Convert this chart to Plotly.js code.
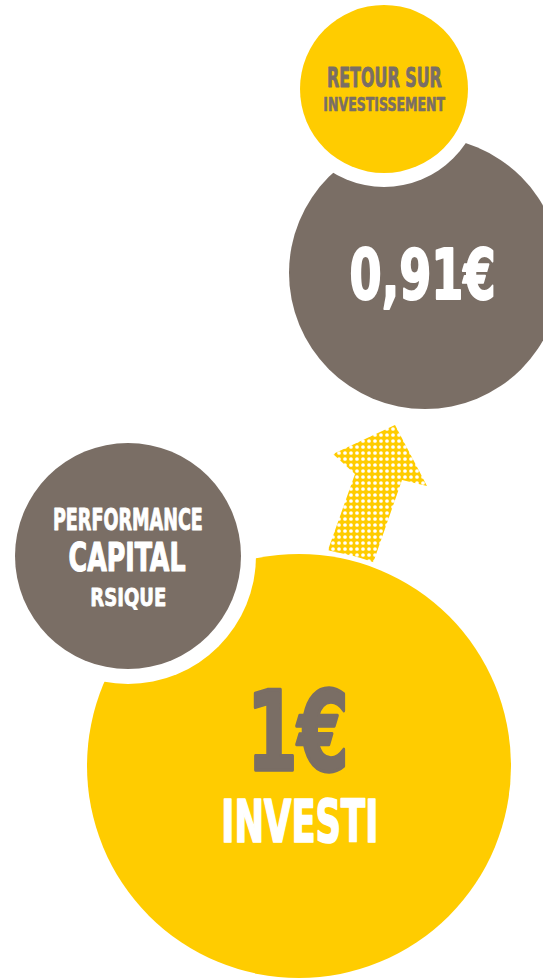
<!DOCTYPE html>
<html>
<head>
<meta charset="utf-8">
<script src="https://cdn.plot.ly/plotly-3.0.1.min.js"></script>
<style>
  html, body { margin: 0; padding: 0; background: #ffffff; }
  #chart { width: 543px; height: 980px; }
</style>
</head>
<body>
<div id="chart"></div>
<script>
// ---- data ----
const returnLabel = ['RETOUR SUR', 'INVESTISSEMENT'];
const riskLabel = ['PERFORMANCE', 'CAPITAL', 'RSIQUE'];
const investedLabel = ['INVESTI'];
const investedValue = [1];
const returnValue = [0.91];

// ---- decoration geometry (pixel space) ----
const arrowX = [328, 355, 333, 395, 427, 402, 372, 328];
const arrowY = [550, 474, 454, 425, 486, 480, 566, 550];

const YELLOW = '#FFCC00';
const GRAY = '#7A6E65';
const FONT = 'Liberation Sans Narrow, Arial Narrow, DejaVu Sans Condensed, sans-serif';

function euro(v) {
  const s = Number.isInteger(v) ? String(v) : v.toFixed(2).replace('.', ',');
  return s + '€';
}

function circle(cx, cy, r, color) {
  return {type: 'circle', xref: 'x', yref: 'y', x0: cx - r, x1: cx + r, y0: cy - r, y1: cy + r,
          fillcolor: color, line: {width: 0}, layer: 'above'};
}

const shapes = [
  circle(425, 273, 136, GRAY),      // return value circle
  circle(384, 89, 98, '#ffffff'),   // ring
  circle(384, 89, 84, YELLOW),      // "retour sur investissement"
  circle(299, 766, 217, '#ffffff'), // ring
  circle(299, 766, 212, YELLOW),    // invested
  circle(128, 556, 128, '#ffffff'), // ring
  circle(128, 556, 113, GRAY)       // performance capital risque
];

function ann(text, x, y, size, color) {
  return {text: text, x: x, y: y, xref: 'x', yref: 'y', showarrow: false,
          xanchor: 'center', yanchor: 'middle',
          font: {family: FONT, size: size, color: color, weight: 'bold'}};
}

const annotations = [
  ann(returnLabel[0], 384, 78, 26, GRAY),
  ann(returnLabel[1], 384, 104, 19.5, GRAY),
  ann(euro(returnValue[0]), 422, 275, 70, '#ffffff'),
  ann(riskLabel[0], 128, 519, 30, '#ffffff'),
  ann(riskLabel[1], 127, 557, 39.5, '#ffffff'),
  ann(riskLabel[2], 128, 597, 25.5, '#ffffff'),
  ann(euro(investedValue[0]), 298, 732, 110, GRAY),
  ann(investedLabel[0], 300, 822, 58, '#ffffff')
];
// widths of the condensed display face in the reference
const fitWidths = [115, 122, 146, 150, 117, 76, 102, 157];

const traces = [{
  type: 'scatter', mode: 'lines', x: arrowX, y: arrowY,
  fill: 'toself', fillcolor: YELLOW,
  fillpattern: {shape: '.', bgcolor: YELLOW, fgcolor: '#FFFFFF', size: 6, solidity: 0.3},
  line: {width: 0, color: YELLOW}, hoverinfo: 'skip', showlegend: false
}];

const layout = {
  width: 543, height: 980,
  margin: {l: 0, r: 0, t: 0, b: 0},
  paper_bgcolor: '#ffffff', plot_bgcolor: '#ffffff',
  xaxis: {range: [0, 543], visible: false, fixedrange: true},
  yaxis: {range: [980, 0], visible: false, fixedrange: true},
  shapes: shapes,
  annotations: annotations,
  showlegend: false
};

Plotly.newPlot('chart', traces, layout, {staticPlot: true, displayModeBar: false}).then(function (gd) {
  const texts = gd.querySelectorAll('g.annotation text.annotation-text');
  texts.forEach(function (t, i) {
    const target = fitWidths[i];
    if (!target) return;
    const bb = t.getBBox();
    const cx = bb.x + bb.width / 2;
    const s = target / bb.width;
    const prev = t.getAttribute('transform') || '';
    t.setAttribute('transform', prev + ' translate(' + cx + ',0) scale(' + s + ',1) translate(' + (-cx) + ',0)');
    const size = annotations[i].font.size;
    t.style.stroke = annotations[i].font.color;
    t.style.strokeWidth = (size * 0.03) + 'px';
    t.style.strokeLinejoin = 'round';
  });
});
</script>
</body>
</html>
